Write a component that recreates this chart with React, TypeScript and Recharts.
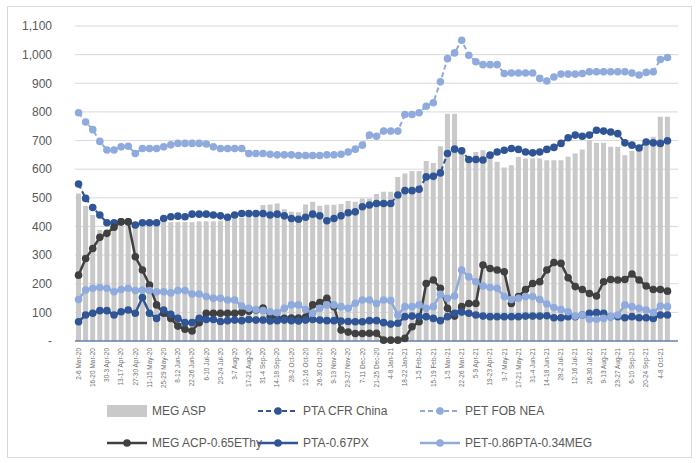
import { ComposedChart, Bar, Line, XAxis, YAxis, CartesianGrid } from "recharts";

const weeks = [
  "2-6 Mar-20", "9-13 Mar-20", "16-20 Mar-20", "23-27 Mar-20", "30-3 Apr-20", "6-10 Apr-20",
  "13-17 Apr-20", "20-24 Apr-20", "27-30 Apr-20", "4-8 May-20", "11-15 May-20", "18-22 May-20",
  "25-29 May-20", "1-5 Jun-20", "8-12 Jun-20", "15-19 Jun-20", "22-26 Jun-20", "29-3 Jul-20",
  "6-10 Jul-20", "13-17 Jul-20", "20-24 Jul-20", "27-31 Jul-20", "3-7 Aug-20", "10-14 Aug-20",
  "17-21 Aug-20", "24-28 Aug-20", "31-4 Sep-20", "7-11 Sep-20", "14-18 Sep-20", "21-25 Sep-20",
  "28-2 Oct-20", "5-9 Oct-20", "12-16 Oct-20", "19-23 Oct-20", "26-30 Oct-20", "2-6 Nov-20",
  "9-13 Nov-20", "16-20 Nov-20", "23-27 Nov-20", "30-4 Dec-20", "7-11 Dec-20", "14-18 Dec-20",
  "21-25 Dec-20", "28-1 Jan-21", "4-8 Jan-21", "11-15 Jan-21", "18-22 Jan-21", "25-29 Jan-21",
  "1-5 Feb-21", "8-12 Feb-21", "15-19 Feb-21", "22-26 Feb-21", "1-5 Mar-21", "8-12 Mar-21",
  "22-26 Mar-21", "29-2 Apr-21", "5-9 Apr-21", "12-16 Apr-21", "19-23 Apr-21", "26-30 Apr-21",
  "3-7 May-21", "10-14 May-21", "17-21 May-21", "24-28 May-21", "31-4 Jun-21", "7-11 Jun-21",
  "14-18 Jun-21", "21-25 Jun-21", "28-2 Jul-21", "5-9 Jul-21", "12-16 Jul-21", "19-23 Jul-21",
  "26-30 Jul-21", "2-6 Aug-21", "9-13 Aug-21", "16-20 Aug-21", "23-27 Aug-21", "30-3 Sep-21",
  "6-10 Sep-21", "13-17 Sep-21", "20-24 Sep-21", "27-1 Oct-21", "4-8 Oct-21", "11-15 Oct-21",
];

// MEG ASP (bars)
const megAsp = [
  515, 471, 440, 388, 380, 395, 405, 410, 412, 412, 412, 415, 415, 415, 415, 415, 415, 418, 418, 418,
  420, 425, 428, 430, 435, 440, 475, 477, 480, 460, 451, 450, 477, 486, 472, 476, 476, 478, 489, 486,
  498, 498, 513, 521, 521, 573, 585, 594, 594, 629, 622, 680, 794, 794, 666, 645, 660, 666, 641, 626,
  606, 614, 643, 637, 637, 637, 631, 631, 631, 643, 655, 669, 701, 692, 692, 678, 678, 649, 664, 678,
  692, 713, 783, 783,
];

const ptaCfrChina = [
  548, 498, 466, 440, 413, 413, 416, 416, 405, 413, 413, 413, 428, 434, 436, 434, 443, 443, 443, 440,
  437, 432, 440, 445, 445, 445, 445, 440, 443, 437, 428, 425, 432, 443, 437, 420, 428, 437, 448, 451,
  469, 475, 480, 480, 480, 510, 525, 525, 530, 573, 575, 587, 655, 670, 664, 634, 634, 632, 649, 660,
  666, 672, 669, 660, 657, 660, 669, 676, 690, 710, 719, 715, 719, 736, 733, 730, 724, 692, 684, 674,
  695, 692, 690, 699,
];

const petFobNea = [
  797, 765, 738, 697, 667, 667, 678, 680, 655, 672, 672, 672, 678, 685, 690, 690, 690, 690, 688, 678,
  672, 672, 672, 672, 655, 655, 655, 652, 650, 650, 650, 648, 648, 648, 648, 650, 650, 652, 660, 670,
  684, 719, 715, 733, 733, 733, 791, 791, 797, 820, 832, 905, 986, 1006, 1050, 998, 975, 965, 965, 965,
  934, 936, 936, 936, 936, 917, 908, 922, 932, 932, 932, 934, 940, 940, 940, 940, 940, 940, 936, 929,
  938, 940, 983, 990,
];

const megAcpMargin = [
  230, 288, 323, 362, 376, 397, 416, 416, 294, 248, 195, 126, 97, 79, 52, 41, 35, 64, 97, 97,
  97, 97, 97, 100, 104, 108, 115, 85, 80, 79, 80, 80, 84, 126, 134, 149, 120, 38, 31, 26,
  26, 27, 27, 3, 3, 3, 9, 50, 67, 201, 213, 184, 114, 87, 120, 131, 131, 265, 253, 248,
  242, 131, 155, 180, 201, 207, 248, 274, 271, 221, 190, 180, 166, 157, 207, 215, 213, 215, 234, 213,
  192, 180, 180, 174,
];

const ptaPxMargin = [
  67, 91, 97, 106, 106, 91, 102, 108, 97, 152, 97, 79, 108, 93, 79, 64, 64, 79, 75, 75,
  68, 71, 73, 71, 75, 73, 73, 70, 71, 73, 71, 70, 73, 75, 73, 71, 71, 70, 68, 67,
  67, 71, 71, 64, 59, 62, 85, 87, 85, 85, 79, 71, 85, 97, 101, 97, 91, 87, 85, 85,
  85, 85, 85, 87, 87, 87, 88, 81, 81, 85, 85, 91, 97, 99, 97, 85, 85, 81, 85, 81,
  81, 79, 91, 91,
];

const petMargin = [
  145, 178, 184, 187, 184, 172, 180, 184, 176, 178, 176, 172, 172, 168, 176, 176, 164, 164, 155, 149,
  149, 143, 143, 122, 114, 110, 106, 102, 99, 114, 126, 126, 110, 97, 114, 126, 126, 120, 114, 132,
  143, 143, 131, 143, 141, 91, 120, 120, 126, 114, 120, 163, 149, 157, 248, 224, 207, 192, 187, 184,
  155, 145, 149, 155, 155, 145, 129, 117, 110, 102, 87, 91, 76, 76, 79, 85, 91, 126, 120, 114,
  108, 99, 122, 120,
];

const yTicks = [0, 100, 200, 300, 400, 500, 600, 700, 800, 900, 1000, 1100];

const data = weeks.map((week, i) => ({
  week,
  megAsp: megAsp[i],
  ptaCfrChina: ptaCfrChina[i],
  petFobNea: petFobNea[i],
  megAcpMargin: megAcpMargin[i],
  ptaPxMargin: ptaPxMargin[i],
  petMargin: petMargin[i],
}));

const DARK_BLUE = "#2F5597";
const LIGHT_BLUE = "#8FAADC";
const DARK_GRAY = "#404040";
const BAR_GRAY = "#C9C9C9";
const TEXT = "#595959";
const DOT_R = 3.8;

function WeekTick({ x, y, payload }: any) {
  return (
    <text
      x={x}
      y={y}
      dy="0.35em"
      transform={`rotate(-90 ${x} ${y})`}
      textAnchor="end"
      fontSize={6.5}
      fill="#6f6f6f"
    >
      {payload.value}
    </text>
  );
}

const legendItems = [
  { label: "MEG ASP", color: BAR_GRAY, kind: "bar", col: 0, row: 0 },
  { label: "PTA CFR China", color: DARK_BLUE, kind: "dash", col: 1, row: 0 },
  { label: "PET FOB NEA", color: LIGHT_BLUE, kind: "dash", col: 2, row: 0 },
  { label: "MEG ACP-0.65EThy", color: DARK_GRAY, kind: "line", col: 0, row: 1 },
  { label: "PTA-0.67PX", color: DARK_BLUE, kind: "line", col: 1, row: 1 },
  { label: "PET-0.86PTA-0.34MEG", color: LIGHT_BLUE, kind: "line", col: 2, row: 1 },
];

const colX = [107, 258, 420];
const rowY = [411, 443];

function LegendIcon({ kind, color }: { kind: string; color: string }) {
  if (kind === "bar") {
    return (
      <svg width={40} height={14}>
        <rect x={0} y={1} width={40} height={12} fill={color} />
      </svg>
    );
  }
  return (
    <svg width={40} height={14}>
      <line
        x1={0}
        y1={7}
        x2={40}
        y2={7}
        stroke={color}
        strokeWidth={kind === "dash" ? 2 : 2.5}
        strokeDasharray={kind === "dash" ? "5 3" : undefined}
      />
      <circle cx={20} cy={7} r={DOT_R} fill={color} />
    </svg>
  );
}

export default function App() {
  return (
    <div
      style={{
        position: "absolute",
        left: 0,
        top: 0,
        width: 699,
        height: 463,
        background: "#fff",
        fontFamily: "'Liberation Sans', Arial, sans-serif",
      }}
    >
      <div
        style={{
          position: "absolute",
          left: 7,
          top: 6,
          width: 685,
          height: 452,
          border: "1px solid #d9d9d9",
          boxSizing: "border-box",
        }}
      />
      <div style={{ position: "absolute", left: 0, top: 0 }}>
        <ComposedChart
          width={699}
          height={463}
          data={data}
          margin={{ top: 26, right: 21, left: 15, bottom: 62 }}
        >
          <CartesianGrid vertical={false} stroke="#d9d9d9" />
          <XAxis
            dataKey="week"
            interval={1}
            height={60}
            tickLine={false}
            tickSize={0}
            tickMargin={7}
            padding={{ left: 0, right: 7 }}
            axisLine={{ stroke: DARK_BLUE }}
            tick={<WeekTick />}
          />
          <YAxis
            width={60}
            domain={[0, 1100]}
            ticks={yTicks}
            axisLine={false}
            tickLine={false}
            tickSize={0}
            tickMargin={23}
            tick={{ fill: TEXT, fontSize: 12 }}
            tickFormatter={(v: number) => (v === 0 ? "-" : v.toLocaleString("en-US"))}
          />
          <Bar dataKey="megAsp" fill={BAR_GRAY} barSize={5} isAnimationActive={false} />
          <Line
            dataKey="ptaCfrChina"
            stroke={DARK_BLUE}
            strokeWidth={2}
            strokeDasharray="5 3"
            dot={{ r: DOT_R, fill: DARK_BLUE, stroke: DARK_BLUE, strokeWidth: 0 }}
            isAnimationActive={false}
          />
          <Line
            dataKey="petFobNea"
            stroke={LIGHT_BLUE}
            strokeWidth={2}
            strokeDasharray="5 3"
            dot={{ r: DOT_R, fill: LIGHT_BLUE, stroke: LIGHT_BLUE, strokeWidth: 0 }}
            isAnimationActive={false}
          />
          <Line
            dataKey="megAcpMargin"
            stroke={DARK_GRAY}
            strokeWidth={2.5}
            dot={{ r: DOT_R, fill: DARK_GRAY, stroke: DARK_GRAY, strokeWidth: 0 }}
            isAnimationActive={false}
          />
          <Line
            dataKey="ptaPxMargin"
            stroke={DARK_BLUE}
            strokeWidth={2.5}
            dot={{ r: DOT_R, fill: DARK_BLUE, stroke: DARK_BLUE, strokeWidth: 0 }}
            isAnimationActive={false}
          />
          <Line
            dataKey="petMargin"
            stroke={LIGHT_BLUE}
            strokeWidth={2.5}
            dot={{ r: DOT_R, fill: LIGHT_BLUE, stroke: LIGHT_BLUE, strokeWidth: 0 }}
            isAnimationActive={false}
          />
        </ComposedChart>
      </div>
      {legendItems.map((item) => (
        <div
          key={item.label}
          style={{
            position: "absolute",
            left: colX[item.col],
            top: rowY[item.row] - 7,
            height: 14,
            display: "flex",
            alignItems: "center",
            gap: 5,
            fontSize: 12,
            color: TEXT,
            whiteSpace: "nowrap",
          }}
        >
          <LegendIcon kind={item.kind} color={item.color} />
          <span>{item.label}</span>
        </div>
      ))}
    </div>
  );
}
